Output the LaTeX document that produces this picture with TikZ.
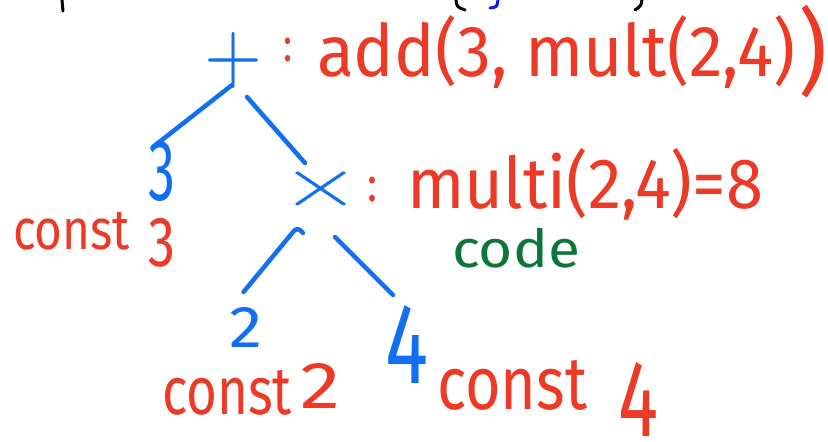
\documentclass[tikz,border=0pt]{standalone}
\usepackage{fontspec}
\setmainfont{Fira Sans}
\usepackage{graphicx}
\usetikzlibrary{calc}

\definecolor{inkblue}{RGB}{18,112,240}
\definecolor{inkred}{RGB}{236,58,38}
\definecolor{inkgreen}{RGB}{12,118,58}
\definecolor{inkpureblue}{RGB}{20,20,235}

% scale a piece of text into a box of the given width and total height (pt)
\newcommand{\fitbox}[3]{\resizebox*{#1pt}{#2pt}{#3}}

\tikzset{
  glyph/.style={inner sep=0pt, outer sep=0pt, anchor=north west},
  treeink/.style={glyph, text=inkblue},
  note/.style={glyph, text=inkred},
  codeink/.style={glyph, text=inkgreen},
  edge/.style={draw=inkblue, line width=4.5pt, line cap=round, line join=round},
  scrap/.style={line width=3pt, line cap=round},
}

\begin{document}
\begin{tikzpicture}[x=1pt, y=-1pt]
  \useasboundingbox (0,0) rectangle (828,442);

  % clipped remains of the line above
  \draw[scrap, black] (62,0) -- (63,11);
  \draw[scrap, black] (456,0) .. controls (457,7) .. (465,10);
  \draw[scrap, inkpureblue] (498,0) .. controls (497,7) .. (490,8);
  \draw[scrap, black] (642,0) .. controls (641,6) .. (635,10);

  % expression tree (thin math operators keep the pen width)
  \node[treeink] (plus)  at (204,32)  {\fitbox{58}{56}{$+$}};
  \node[treeink] (three) at (148,142) {\fitbox{27}{60}{3}};
  \node[treeink] (times) at (280,165) {\fitbox{81}{47}{$\times$}};
  \node[treeink] (two)   at (229,307) {\fitbox{33}{40}{2}};
  \node[treeink] (four)  at (385,305) {\fitbox{43}{78}{4}};

  \draw[edge] ($(plus.north)+(-1,53)$) -- ($(three.north west)+(5,5)$);
  \draw[edge] ($(plus.north)+(14,65)$) -- ($(times.north west)+(25,-2)$);
  \coordinate (hookA) at ($(times.north west)+(23,68)$);
  \coordinate (hookB) at ($(times.north west)+(13,67)$);
  \draw[edge] (hookA) .. controls ($(times.north west)+(19,63)$) and ($(times.north west)+(16,63)$) .. (hookB)
              -- ($(two.north)+(-2,-15)$);
  \draw[edge] ($(times.north west)+(55,72)$) -- ($(four.north west)+(8,-10)$);

  % evaluation notes
  \node[note] (colonA) at (283,38)  {\fitbox{9}{24}{:}};
  \node[note] (addlbl) at (317,15)  {\fitbox{478}{73}{add(3, mult(2,4)}};
  \node[note] (close)  at (798,5)   {\fitbox{29}{93}{)}};

  \node[note] (colonB) at (367,177) {\fitbox{10}{25}{:}};
  \node[note] (multlbl) at (407,148) {\fitbox{356}{72}{multi(2,4)=8}};

  \node[codeink] (code) at (452,228) {\fitbox{128}{40}{code}};

  \node[note] (constA)  at (13,212)  {\fitbox{117}{38}{const}};
  \node[note] (constAn) at (148,218) {\fitbox{27}{49}{3}};
  \node[note] (constB)  at (162,370) {\fitbox{130}{45}{const}};
  \node[note] (constBn) at (300,363) {\fitbox{40}{45}{2}};
  \node[note] (constC)  at (437,360) {\fitbox{150}{50}{const}};
  \node[note] (constCn) at (618,362) {\fitbox{40}{74}{4}};
\end{tikzpicture}
\end{document}
